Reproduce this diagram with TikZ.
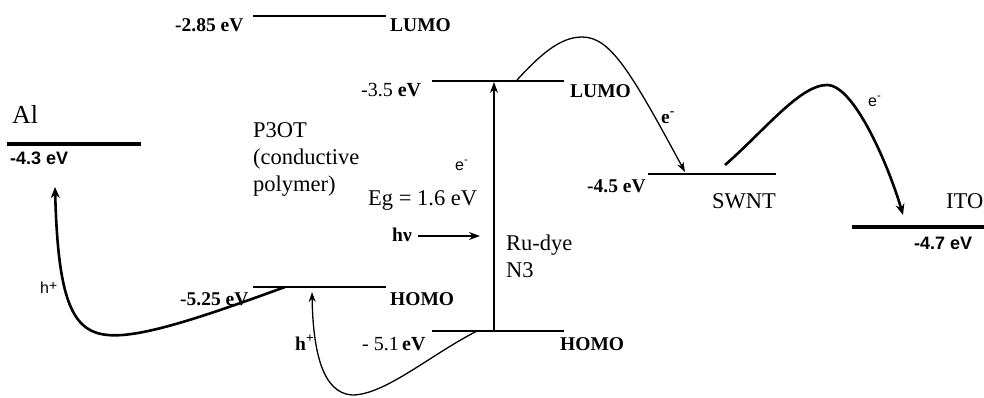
\documentclass[tikz,border=0pt]{standalone}
\usepackage{fontspec}
\setmainfont{Liberation Serif}
\newfontfamily\arialf{Liberation Sans}
\usetikzlibrary{arrows.meta}
\begin{document}
\begin{tikzpicture}[x=1pt,y=-1pt,
  lvl/.style={line width=2.4pt},
  lvlthick/.style={line width=4pt},
  lbl/.style={inner sep=0pt, anchor=base west},
  bl/.style={lbl, font=\fontsize{19.5}{24}\selectfont\bfseries},
  rg/.style={lbl, font=\fontsize{22.5}{27}\selectfont},
  mx/.style={lbl, font=\fontsize{20}{24}\selectfont},
  sb/.style={lbl, font=\fontsize{18}{22}\selectfont\arialf\bfseries},
  ss/.style={lbl, font=\fontsize{16}{20}\selectfont\arialf},
  tnarrow/.style={line width=1.3pt, -{Stealth[length=10pt,width=7pt]}},
  tkarrow/.style={line width=2.6pt, -{Stealth[length=11pt,width=9pt]}},
  strarrow/.style={line width=1.5pt, -{Stealth[length=11pt,width=8pt]}},
]
\useasboundingbox (0,0) rectangle (984,397);

% level lines
\coordinate (pL1) at (253,16);  \coordinate (pL2) at (386,16);
\coordinate (dL1) at (432,81);  \coordinate (dL2) at (564,81);
\coordinate (al1) at (7,144);   \coordinate (al2) at (141,144);
\coordinate (sw1) at (648,174); \coordinate (sw2) at (776,174);
\coordinate (it1) at (852,227); \coordinate (it2) at (984,227);
\coordinate (pH1) at (253,287); \coordinate (pH2) at (386,287);
\coordinate (dH1) at (432,331); \coordinate (dH2) at (564,331);

\draw[lvl] (pL1) -- (pL2);
\draw[lvl] (dL1) -- (dL2);
\draw[lvlthick] (al1) -- (al2);
\draw[lvl] (sw1) -- (sw2);
\draw[lvlthick] (it1) -- (it2);
\draw[lvl] (pH1) -- (pH2);
\draw[lvl] (dH1) -- (dH2);

% excitation arrow
\coordinate (vB) at (494,330);
\coordinate (vT) at (494,82);
\draw[strarrow] (vB) -- (vT);

% hv arrow
\coordinate (hvA) at (418,236);
\coordinate (hvB) at (480,236);
\draw[strarrow] (hvA) -- (hvB);

% hole transfer P3OT -> Al
\coordinate (hA) at (285,287);
\coordinate (hAe) at (55,187);
\draw[tkarrow] (hA) .. controls (200,318) and (140,338) .. (108,335)
  .. controls (72,332) and (58,300) .. (hAe);

% hole transfer dye -> P3OT
\coordinate (hB) at (477,331);
\coordinate (hBe) at (312,292);
\draw[tnarrow] (hB) .. controls (430,355) and (385,395) .. (352,395)
  .. controls (322,393) and (313,350) .. (hBe);

% electron transfer dye -> SWNT
\coordinate (eA) at (517,80);
\coordinate (eAe) at (685,172);
\draw[tnarrow] (eA) .. controls (540,55) and (560,37) .. (582,37)
  .. controls (610,37) and (630,70) .. (eAe);

% electron transfer SWNT -> ITO
\coordinate (eB) at (725,165);
\coordinate (eBe) at (903,215);
\draw[tkarrow] (eB) .. controls (765,130) and (800,85) .. (827,85)
  .. controls (855,85) and (890,170) .. (eBe);

% labels
\node[bl] (t285) at (175,31) {-2.85 eV};
\node[bl] (tlumo1) at (390,31) {LUMO};
\node[mx] (t35) at (361,96) {-3.5 \textbf{eV}};
\node[bl] (tlumo2) at (570,97) {LUMO};
\node[lbl, font=\fontsize{26}{30}\selectfont] (tal) at (12,123) {Al};
\node[sb] (t43) at (10,164) {-4.3 eV};
\node[rg] (tp3ot) at (253,137) {P3OT};
\node[rg] (tcond) at (253,164) {(conductive};
\node[rg] (tpoly) at (253,191) {polymer)};
\node[ss] (te1) at (455,170) {e\textsuperscript{-}};
\node[rg] (teg) at (368,205) {Eg = 1.6 eV};
\node[bl] (thv) at (392,241) {hν};
\node[rg] (tru) at (506,250) {Ru-dye};
\node[rg] (tn3) at (506,277) {N3};
\node[bl] (t45) at (587,192) {-4.5 eV};
\node[rg] (tsw) at (712,208) {SWNT};
\node[rg] (tito) at (946,208) {ITO};
\node[sb] (t47) at (914,249) {-4.7 eV};
\node[bl] (t525) at (180,305) {-5.25 eV};
\node[bl] (thomo1) at (390,305) {HOMO};
\node[mx] (t51) at (362,350) {- 5.1\,\textbf{eV}};
\node[bl] (thomo2) at (560,350) {HOMO};
\node[ss] (th1) at (40,293) {h\raisebox{3pt}{\fontsize{14}{14}\selectfont +}};
\node[bl] (th2) at (295,350) {h\textsuperscript{+}};
\node[bl] (te2) at (661,123) {e\textsuperscript{-}};
\node[ss] (te3) at (868,106) {e\textsuperscript{-}};
\end{tikzpicture}
\end{document}
